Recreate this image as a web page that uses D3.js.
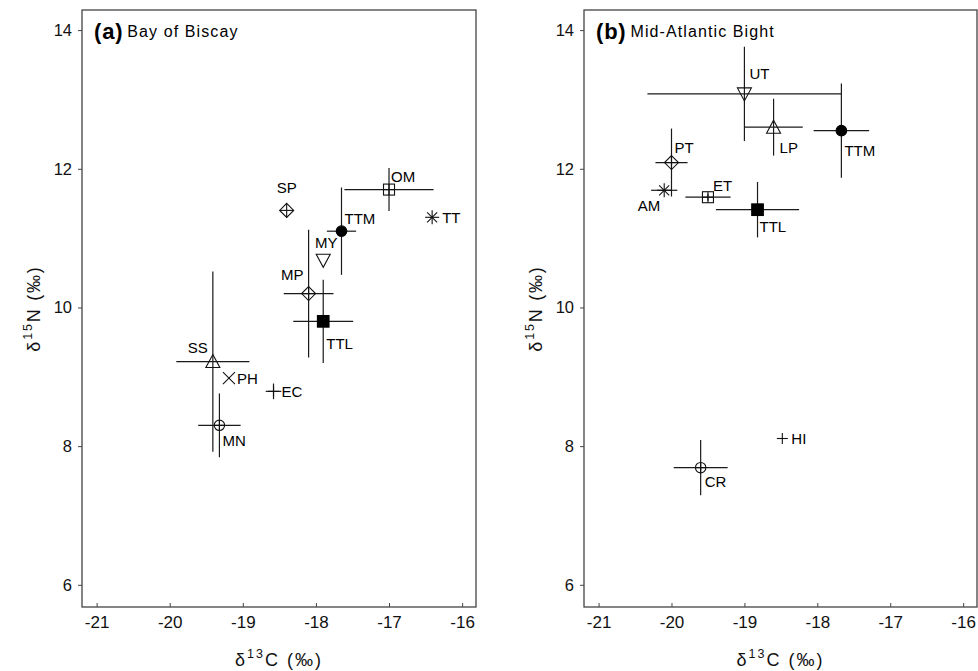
<!DOCTYPE html>
<html>
<head>
<meta charset="utf-8">
<script src="https://cdn.jsdelivr.net/npm/d3@7"></script>
<style>
  html, body { margin: 0; padding: 0; background: #fff; }
  svg { display: block; font-family: "Liberation Sans", Arial, Helvetica, sans-serif; }
</style>
</head>
<body>
<svg id="chart" width="978" height="671"></svg>
<script>
// ---------- data ----------
const xTicks = [-21, -20, -19, -18, -17, -16];
const yTicks = [6, 8, 10, 12, 14];

// (a) Bay of Biscay
const biscayLabels  = ["SP", "OM", "TT", "TTM", "MY", "MP", "TTL", "SS", "PH", "EC", "MN"];
const biscayC       = [-18.4, -17.0, -16.41, -17.65, -17.9, -18.1, -17.9, -19.41, -19.19, -18.58, -19.32];
const biscayN       = [11.4, 11.7, 11.3, 11.1, 10.68, 10.2, 9.8, 9.22, 8.98, 8.79, 8.3];
const biscayCsd     = [0, 0.61, 0, 0.2, 0, 0.34, 0.41, 0.5, 0, 0.107, 0.29];
const biscayNsd     = [0, 0.31, 0, 0.63, 0, 0.92, 0.6, 1.3, 0, 0.113, 0.46];
const biscaySymbols = ["diamond", "square", "asterisk", "dot", "tridown", "diamond", "block", "triup", "cross", "plus", "circle"];

// (b) Mid-Atlantic Bight
const mabLabels  = ["UT", "LP", "TTM", "PT", "AM", "ET", "TTL", "CR", "HI"];
const mabC       = [-19.0, -18.6, -17.67, -20.0, -20.1, -19.5, -18.82, -19.6, -18.48];
const mabN       = [13.08, 12.6, 12.55, 12.09, 11.69, 11.59, 11.41, 7.69, 8.11];
const mabCsd     = [1.33, 0.4, 0.38, 0.22, 0.18, 0.31, 0.57, 0.37, 0];
const mabNsd     = [0.68, 0.41, 0.68, 0.49, 0, 0.05, 0.4, 0.4, 0];
const mabSymbols = ["tridown", "triup", "dot", "diamond", "asterisk", "square", "block", "circle", "plus"];

// ---------- layout (label placement, not data) ----------
const biscayLabelDx = [0, 2, 10, 3, 3, -5, 3, -5, 8, 8, 3];
const biscayLabelDy = [-17, -8, 6, -7, -12, -14, 28, -9, 6, 5.5, 21];
const biscayAnchor  = ["middle", "start", "start", "start", "middle", "end", "start", "end", "start", "start", "start"];
const mabLabelDx = [5, 6, 3, 3, -4, 5, 2, 4, 9];
const mabLabelDy = [-15, 25.6, 25.7, -10, 21, -6.6, 22, 19.6, 5.4];
const mabAnchor  = ["start", "start", "start", "start", "end", "start", "start", "start", "start"];

const svg = d3.select("#chart");
const INK = "#111";

function drawMarker(g, type, cx, cy) {
  const m = g.append("g").attr("transform", `translate(${cx},${cy})`)
    .attr("stroke", INK).attr("stroke-width", 1.1).attr("fill", "none");
  const line = (x1, y1, x2, y2) => m.append("line").attr("x1", x1).attr("y1", y1).attr("x2", x2).attr("y2", y2);
  if (type === "diamond") {
    m.append("path").attr("d", "M0,-7L7,0L0,7L-7,0Z");
    line(-7, 0, 7, 0); line(0, -7, 0, 7);
  } else if (type === "square") {
    m.append("rect").attr("x", -5.5).attr("y", -5.5).attr("width", 11).attr("height", 11);
    line(-5.5, 0, 5.5, 0); line(0, -5.5, 0, 5.5);
  } else if (type === "circle") {
    m.append("circle").attr("r", 5.2);
    line(-5.2, 0, 5.2, 0); line(0, -5.2, 0, 5.2);
  } else if (type === "dot") {
    m.append("circle").attr("r", 5.3).attr("fill", "#000").attr("stroke", "#000");
  } else if (type === "block") {
    m.append("rect").attr("x", -5.8).attr("y", -5.8).attr("width", 11.6).attr("height", 11.6).attr("fill", "#000").attr("stroke", "#000");
  } else if (type === "triup") {
    m.append("path").attr("d", "M0,-7L7,6L-7,6Z");
  } else if (type === "tridown") {
    m.append("path").attr("d", "M-7,-6L7,-6L0,7Z");
  } else if (type === "asterisk") {
    line(-7, 0, 7, 0); line(0, -7, 0, 7); line(-5, -5, 5, 5); line(-5, 5, 5, -5);
  } else if (type === "cross") {
    line(-6, -6, 6, 6); line(-6, 6, 6, -6);
  } else if (type === "plus") {
    line(-5.5, 0, 5.5, 0); line(0, -5.5, 0, 5.5);
  }
}

function panel(opts) {
  const { left, right, top, bottom, labels, xs, ys, xsd, ysd, symbols, ldx, ldy, lanchor, tag, title } = opts;
  const x = d3.scaleLinear().domain([-21.2, -15.81]).range([left, right]);
  const y = d3.scaleLinear().domain([5.68, 14.29]).range([bottom, top]);
  const g = svg.append("g");

  // x axis (ticks inward)
  const xAxis = g.append("g").attr("transform", `translate(0,${bottom})`)
    .call(d3.axisBottom(x).tickValues(xTicks).tickSize(-4).tickPadding(8).tickFormat(d => d < 0 ? "-" + Math.abs(d) : d));
  xAxis.select(".domain").remove();
  xAxis.selectAll(".tick line").attr("stroke", "#444");
  xAxis.selectAll(".tick text").attr("font-size", 17).attr("fill", "#111")
    .attr("font-family", "Liberation Sans, Arial, sans-serif").attr("dy", "0.74em");

  // y axis (ticks outward)
  const yAxis = g.append("g").attr("transform", `translate(${left},0)`)
    .call(d3.axisLeft(y).tickValues(yTicks).tickSize(4).tickPadding(6));
  yAxis.select(".domain").remove();
  yAxis.selectAll(".tick line").attr("stroke", "#444");
  yAxis.selectAll(".tick text").attr("font-size", 16.5).attr("fill", "#111")
    .attr("font-family", "Liberation Sans, Arial, sans-serif");

  // frame
  g.append("rect").attr("x", left).attr("y", top).attr("width", right - left).attr("height", bottom - top)
    .attr("fill", "none").attr("stroke", "#444").attr("stroke-width", 1.3);

  // error bars
  const eb = g.append("g").attr("stroke", "#1a1a1a").attr("stroke-width", 1.2);
  labels.forEach((lab, i) => {
    if (xsd[i] > 0) eb.append("line").attr("x1", x(xs[i] - xsd[i])).attr("x2", x(xs[i] + xsd[i])).attr("y1", y(ys[i])).attr("y2", y(ys[i]));
    if (ysd[i] > 0) eb.append("line").attr("x1", x(xs[i])).attr("x2", x(xs[i])).attr("y1", y(ys[i] - ysd[i])).attr("y2", y(ys[i] + ysd[i]));
  });

  // markers
  labels.forEach((lab, i) => drawMarker(g, symbols[i], x(xs[i]), y(ys[i])));

  // point labels
  labels.forEach((lab, i) => {
    g.append("text").attr("x", x(xs[i]) + ldx[i]).attr("y", y(ys[i]) + ldy[i])
      .attr("text-anchor", lanchor[i]).attr("font-size", 15).attr("fill", "#000").text(lab);
  });

  // panel title
  const t = g.append("text").attr("x", left + 12).attr("y", top + 29).attr("fill", "#000");
  t.append("tspan").attr("font-weight", "bold").attr("font-size", 22).attr("letter-spacing", 0.8).text(tag);
  t.append("tspan").attr("dx", 4).attr("font-size", 16).attr("letter-spacing", 1.1).attr("dy", -2).text(title);

  // x title
  const xt = g.append("text").attr("x", (left + right) / 2).attr("y", 666).attr("text-anchor", "middle")
    .attr("font-size", 18).attr("fill", "#111").attr("letter-spacing", 2);
  xt.append("tspan").text("δ");
  xt.append("tspan").attr("font-size", 12.5).attr("dy", -8).text("13");
  xt.append("tspan").attr("dy", 8).text("C (‰)");

  // y title
  const ytx = left - 42;
  const yt = g.append("text").attr("transform", `translate(${ytx},${(top + bottom) / 2}) rotate(-90)`)
    .attr("text-anchor", "middle").attr("font-size", 18).attr("fill", "#111").attr("letter-spacing", 1.8);
  yt.append("tspan").text("δ");
  yt.append("tspan").attr("font-size", 12.5).attr("dy", -8).text("15");
  yt.append("tspan").attr("dy", 8).text("N (‰)");
}

panel({ left: 82, right: 476, top: 10, bottom: 607,
  labels: biscayLabels, xs: biscayC, ys: biscayN, xsd: biscayCsd, ysd: biscayNsd, symbols: biscaySymbols,
  ldx: biscayLabelDx, ldy: biscayLabelDy, lanchor: biscayAnchor, tag: "(a)", title: "Bay of Biscay" });

panel({ left: 584, right: 977, top: 10, bottom: 607,
  labels: mabLabels, xs: mabC, ys: mabN, xsd: mabCsd, ysd: mabNsd, symbols: mabSymbols,
  ldx: mabLabelDx, ldy: mabLabelDy, lanchor: mabAnchor, tag: "(b)", title: "Mid-Atlantic Bight" });
</script>
</body>
</html>
